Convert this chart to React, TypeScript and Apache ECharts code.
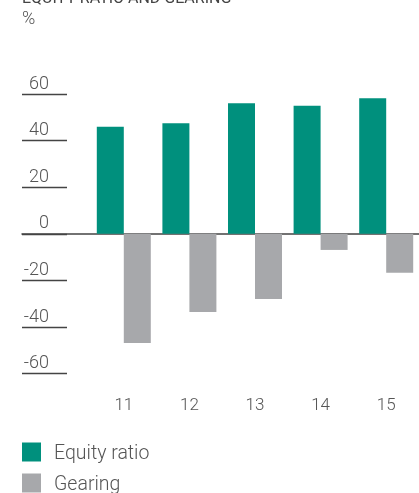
import React, { useEffect, useRef } from "react";
import * as echarts from "echarts";

const categories = ["11", "12", "13", "14", "15"];
const equityRatio = [46, 47.5, 56, 55, 58.2];
const gearing = [-46.8, -33.5, -27.9, -6.9, -16.7];
const yTicks = { min: -60, max: 60, interval: 20 };

const FONT = "Roboto";
const TEXT = "#555";
const LINE = "#444";

export default function App() {
  const ref = useRef<HTMLDivElement>(null);
  useEffect(() => {
    if (!ref.current) return;
    const chart = echarts.init(ref.current, null, { renderer: "svg" });
    chart.setOption({
      animation: false,
      textStyle: { fontFamily: FONT },
      title: [
        {
          text: "EQUITY RATIO AND GEARING",
          left: 22,
          top: -11,
          padding: 0,
          textStyle: { fontFamily: FONT, fontSize: 16, fontWeight: 400, color: LINE },
        },
        {
          text: "%",
          left: 22,
          top: 8,
          padding: 0,
          textStyle: { fontFamily: FONT, fontSize: 18, fontWeight: 300, color: TEXT },
        },
      ],
      legend: {
        orient: "vertical",
        left: 22,
        top: 442,
        itemWidth: 19,
        itemHeight: 19,
        itemGap: 11,
        icon: "rect",
        padding: 0,
        textStyle: { fontFamily: FONT, fontSize: 19.5, fontWeight: 300, color: TEXT, padding: [0, 0, 0, 8] },
        data: ["Equity ratio", "Gearing"],
      },
      grid: [
        { left: 22, right: 0, top: 94, bottom: 119.3 },
        { left: 91, width: 331.5, top: 94, bottom: 119.3 },
      ],
      xAxis: [
        {
          gridIndex: 0,
          type: "value",
          min: 0,
          max: 1,
          axisLine: { show: true, onZero: true, lineStyle: { color: LINE, width: 1.5 } },
          axisTick: { show: false },
          axisLabel: { show: false },
          splitLine: { show: false },
        },
        {
          gridIndex: 1,
          type: "category",
          data: categories,
          axisLine: { show: false, onZero: false },
          axisTick: { show: false },
          axisLabel: { margin: 22, fontFamily: FONT, fontSize: 17, fontWeight: 300, color: TEXT },
        },
      ],
      yAxis: [
        {
          gridIndex: 0,
          type: "value",
          min: yTicks.min,
          max: yTicks.max,
          interval: yTicks.interval,
          axisLine: { show: false },
          axisTick: { show: true, inside: true, length: 45, lineStyle: { color: LINE, width: 1.3 } },
          splitLine: { show: false },
          axisLabel: {
            inside: true,
            margin: 27,
            align: "right",
            verticalAlign: "bottom",
            padding: [0, 0, 3, 0],
            fontFamily: FONT,
            fontSize: 18,
            fontWeight: 300,
            color: TEXT,
          },
        },
        {
          gridIndex: 1,
          type: "value",
          min: yTicks.min,
          max: yTicks.max,
          interval: yTicks.interval,
          show: false,
        },
      ],
      series: [
        {
          name: "Equity ratio",
          type: "bar",
          xAxisIndex: 1,
          yAxisIndex: 1,
          data: equityRatio,
          barWidth: 27,
          barGap: "0%",
          itemStyle: { color: "#00907d" },
        },
        {
          name: "Gearing",
          type: "bar",
          xAxisIndex: 1,
          yAxisIndex: 1,
          data: gearing,
          barWidth: 27,
          barGap: "0%",
          itemStyle: { color: "#a7a8ab" },
        },
      ],
    });
    return () => chart.dispose();
  }, []);
  return <div ref={ref} style={{ position: "fixed", left: 0, top: 0, width: 419, height: 493 }} />;
}
